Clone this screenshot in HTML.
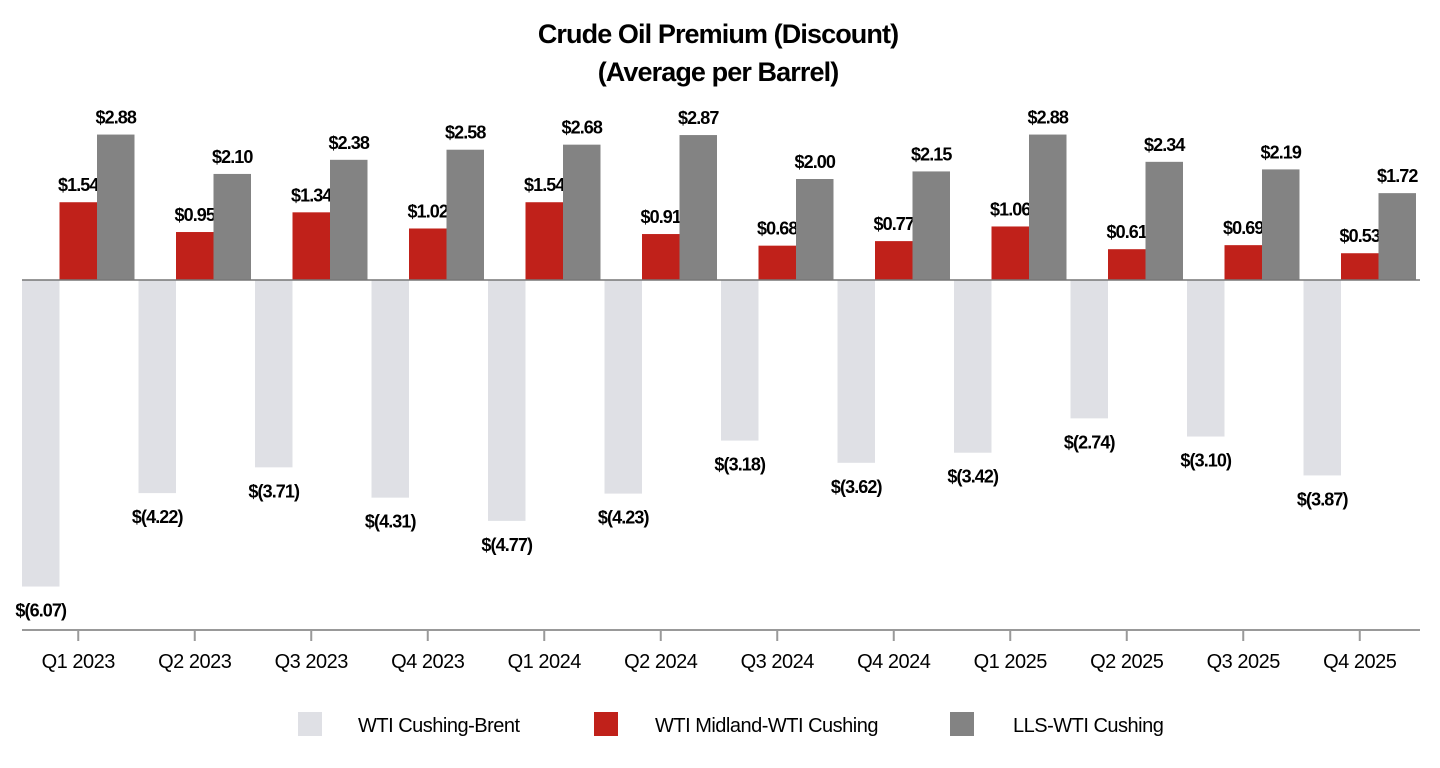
<!DOCTYPE html>
<html><head><meta charset="utf-8"><style>
body{margin:0;background:#fff;font-family:"Liberation Sans",Arial,sans-serif}
svg{display:block}
</style></head><body>
<svg id="chart" width="1440" height="768" viewBox="0 0 1440 768">
<text x="718" y="43" text-anchor="middle" font-weight="bold" font-size="27" letter-spacing="-0.9">Crude Oil Premium (Discount)</text>
<text x="718" y="81" text-anchor="middle" font-weight="bold" font-size="27" letter-spacing="-0.9">(Average per Barrel)</text>
<g id="bars"></g>
<g id="legend">
<rect x="298" y="712" width="24" height="24" fill="#dfe0e5"/>
<text x="358" y="732" font-size="20" letter-spacing="-0.5">WTI Cushing-Brent</text>
<rect x="594" y="712" width="24" height="24" fill="#c0211a"/>
<text x="655" y="732" font-size="20" letter-spacing="-0.5">WTI Midland-WTI Cushing</text>
<rect x="950" y="712" width="24" height="24" fill="#838383"/>
<text x="1013" y="732" font-size="20" letter-spacing="-0.5">LLS-WTI Cushing</text>
</g>
</svg>
<script>
const categories=["Q1 2023","Q2 2023","Q3 2023","Q4 2023","Q1 2024","Q2 2024","Q3 2024","Q4 2024","Q1 2025","Q2 2025","Q3 2025","Q4 2025"];
const cushingBrent=[-6.07,-4.22,-3.71,-4.31,-4.77,-4.23,-3.18,-3.62,-3.42,-2.74,-3.10,-3.87];
const midland=[1.54,0.95,1.34,1.02,1.54,0.91,0.68,0.77,1.06,0.61,0.69,0.53];
const lls=[2.88,2.10,2.38,2.58,2.68,2.87,2.00,2.15,2.88,2.34,2.19,1.72];
const NS="http://www.w3.org/2000/svg";
const g=document.getElementById('bars');
const zeroY=280, pxPer=50.5, x0=22, groupW=116.5, barW=37.5;
function y(v){return zeroY - v*pxPer;}
function xg(i){return x0 + i*groupW;}
function fmt(v){return v<0?"$("+Math.abs(v).toFixed(2)+")":"$"+v.toFixed(2);}
function mk(tag,attrs){const e=document.createElementNS(NS,tag);for(const k in attrs)e.setAttribute(k,attrs[k]);g.appendChild(e);return e;}
const series=[[cushingBrent,"#dfe0e5","cushing-brent"],[midland,"#c0211a","midland"],[lls,"#838383","lls"]];
categories.forEach((c,i)=>{
  series.forEach(([arr,col,nm],s)=>{
    const v=arr[i], bx=xg(i)+s*barW;
    const r=mk('rect',{x:bx,y:Math.min(y(v),zeroY),width:barW,height:Math.abs(y(v)-zeroY),fill:col});
    
    
    const ty=v<0?y(v)+30:y(v)-11;
    const t=mk('text',{x:bx+barW/2,y:ty,'text-anchor':'middle','font-weight':'bold','font-size':'18','letter-spacing':'-0.9'});
    t.textContent=fmt(v);
    
    
  });
  const cx=xg(i)+barW*1.5;
  const tk=mk('line',{x1:cx,x2:cx,y1:630,y2:641,stroke:'#999','stroke-width':2});
  
  
  const lb=mk('text',{x:cx,y:668,'text-anchor':'middle','font-size':'20','letter-spacing':'-0.5'});
  lb.textContent=c;
  
  
});
const zl=mk('line',{x1:22,x2:1420,y1:zeroY,y2:zeroY,stroke:'#777','stroke-width':1.5});


const ax=mk('line',{x1:22,x2:1420,y1:630,y2:630,stroke:'#999','stroke-width':2});


</script>
</body></html>
